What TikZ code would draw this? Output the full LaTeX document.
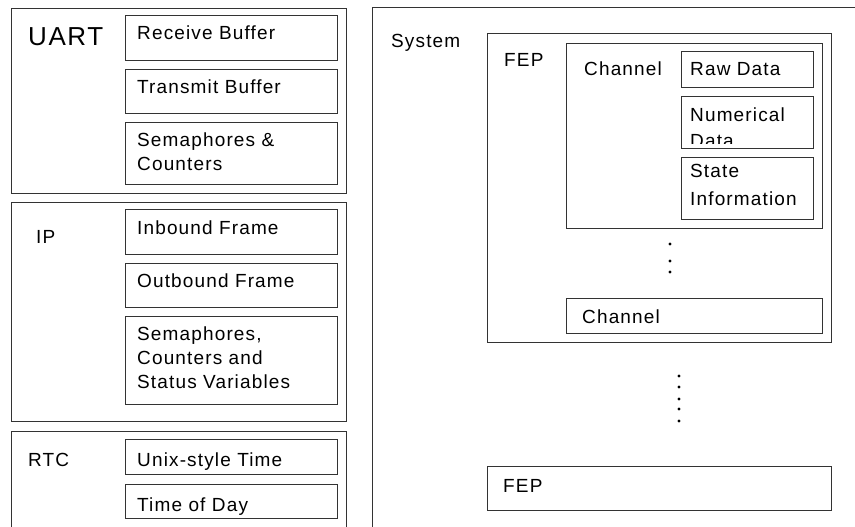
\documentclass[tikz,border=0pt]{standalone}
\usepackage{fontspec}
\setmainfont{Liberation Sans}[LetterSpace=6]
\begin{document}
\begin{tikzpicture}[x=1pt, y=-1pt,
    box/.style={draw=black!80, line width=1.2pt, inner sep=0pt, anchor=north west},
    lbl/.style={anchor=base west, inner sep=0pt, align=left, font=\fontsize{19}{24}\selectfont}]
    \useasboundingbox (0,0) rectangle (855,527);

    % UART block
    \node[box, minimum width=335, minimum height=185] (uart) at (11,8) {};
    \node[box, minimum width=212, minimum height=45] (rxbuf) at (125,15) {};
    \node[box, minimum width=212, minimum height=44] (txbuf) at (125,69) {};
    \node[box, minimum width=212, minimum height=62] (usem) at (125,122) {};
    \node[lbl, font=\fontsize{26}{30}\selectfont] (uartl) at (28,46) {UART};
    \node[lbl] (rxbufl) at (137,40) {Receive Buffer};
    \node[lbl] (txbufl) at (137,94) {Transmit Buffer};
    % multi-line labels sit on their last line
    \node[lbl] (useml) at (137,170) {Semaphores \&\\Counters};

    % IP block
    \node[box, minimum width=335, minimum height=219] (ip) at (11,202) {};
    \node[box, minimum width=212, minimum height=45] (inframe) at (125,209) {};
    \node[box, minimum width=212, minimum height=44] (outframe) at (125,263) {};
    \node[box, minimum width=212, minimum height=88] (ipsem) at (125,316) {};
    \node[lbl] (ipl) at (36,243) {IP};
    \node[lbl] (inframel) at (137,234) {Inbound Frame};
    \node[lbl] (outframel) at (137,287) {Outbound Frame};
    \node[lbl] (ipseml) at (137,388) {Semaphores,\\Counters and\\Status Variables};

    % RTC block, runs off the bottom
    \node[box, minimum width=335, minimum height=120] (rtc) at (11,431) {};
    \node[box, minimum width=212, minimum height=35] (unixtime) at (125,439) {};
    \node[box, minimum width=212, minimum height=34] (tod) at (125,484) {};
    \node[lbl] (rtcl) at (28,466) {RTC};
    \node[lbl] (unixtimel) at (137,466) {Unix-style Time};
    \node[lbl] (todl) at (137,511) {Time of Day};

    % System with its FEPs
    \node[box, minimum width=520, minimum height=540] (system) at (372,7) {};
    \node[box, minimum width=344, minimum height=309] (fep) at (487,33) {};
    \node[box, minimum width=256, minimum height=185] (chan) at (566,43) {};
    \node[box, minimum width=132, minimum height=36] (raw) at (681,51) {};
    \node[box, minimum width=132, minimum height=52] (num) at (681,96) {};
    \node[box, minimum width=132, minimum height=62] (state) at (681,157) {};
    \node[box, minimum width=256, minimum height=35] (chanb) at (566,298) {};
    \node[box, minimum width=344, minimum height=44] (fepb) at (487,466) {};
    \node[lbl] (systeml) at (391,48) {System};
    \node[lbl] (fepl) at (504,67) {FEP};
    \node[lbl] (chanl) at (584,76) {Channel};
    \node[lbl] (rawl) at (690,76) {Raw Data};
    \begin{scope}
        \clip (681,96) rectangle (813,143);
        \node[lbl, font=\fontsize{19}{26}\selectfont] (numl) at (690,147) {Numerical\\Data};
    \end{scope}
    \node[lbl, font=\fontsize{19}{28}\selectfont] (statel) at (690,205) {State\\Information};
    \node[lbl] (chanbl) at (582,323) {Channel};
    \node[lbl] (fepbl) at (503,492) {FEP};

    % ellipsis dots
    \foreach \y in {244,261,272}
        \fill (670,\y) circle (1.6);
    \foreach \y in {376,387,399,409,421}
        \fill (679,\y) circle (1.6);
\end{tikzpicture}
\end{document}
